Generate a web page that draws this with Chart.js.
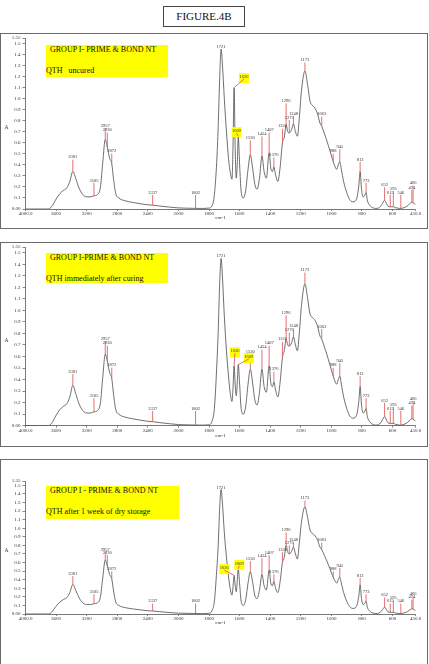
<!DOCTYPE html>
<html>
<head>
<meta charset="utf-8">
<title>FIGURE.4B</title>
<script src="https://cdn.jsdelivr.net/npm/chart.js@4.4.1/dist/chart.umd.min.js"></script>
<style>
  body { margin:0; width:429px; height:664px; position:relative; overflow:hidden; background:#fff;
         font-family:"Liberation Serif","Times New Roman",serif; }
  .figtitle { position:absolute; left:163px; top:6px; width:82px; height:21px; box-sizing:border-box;
              border:1px solid #444; font-size:11px; line-height:19px; text-align:center; color:#111; }
  .frame { position:absolute; left:0; width:428px; box-sizing:border-box; border:1.5px solid #6a6a6a; }
  canvas { position:absolute; left:0; }
  .note { position:absolute; left:46px; background:#ffff00; color:#111; font-size:8px; line-height:8px; white-space:pre; }
  .note span { position:absolute; }
</style>
</head>
<body>
<div class="figtitle">FIGURE.4B</div>

<div class="frame" style="top:32.5px;height:196px"></div>
<canvas id="uncured" width="429" height="195" style="top:33px"></canvas>
<div class="note" style="top:45px;width:122px;height:32px"><span style="left:4px;top:1px">GROUP I- PRIME &amp; BOND NT</span><span style="left:0;top:22px">QTH   uncured</span></div>

<div class="frame" style="top:241.5px;height:205.5px"></div>
<canvas id="cured" width="429" height="204" style="top:242px"></canvas>
<div class="note" style="top:253px;width:122px;height:30px"><span style="left:4px;top:1.3px">GROUP I-PRIME &amp; BOND NT</span><span style="left:0;top:22.3px">QTH immediately after curing</span></div>

<div class="frame" style="top:458.5px;height:230px"></div>
<canvas id="stored" width="429" height="181" style="top:459px"></canvas>
<div class="note" style="top:486px;width:133px;height:33px"><span style="left:4px;top:1.3px">GROUP I - PRIME &amp; BOND NT</span><span style="left:0;top:22px">QTH after 1 week of dry storage</span></div>

<script>
// wavenumbers (cm-1) where the spectra were read
const wavenumbers = [
  4000, 3800, 3700, 3660, 3600, 3550, 3500, 3460, 3420, 3381,
  3340, 3300, 3250, 3200, 3150, 3105, 3060, 3020, 2990, 2957,
  2930, 2900, 2872, 2850, 2820, 2780, 2700, 2600, 2500, 2400,
  2337, 2250, 2100, 2000, 1900, 1850, 1802, 1780, 1765, 1750,
  1740, 1730, 1721, 1712, 1700, 1686, 1672, 1660, 1650, 1643,
  1636, 1629, 1622, 1615, 1609, 1600, 1590, 1575, 1560, 1545,
  1530, 1515, 1500, 1486, 1470, 1454, 1440, 1425, 1407, 1395,
  1385, 1376, 1365, 1350, 1335, 1320, 1308, 1296, 1285, 1275,
  1260, 1248, 1235, 1222, 1210, 1195, 1173, 1155, 1140, 1125,
  1110, 1090, 1075, 1063, 1045, 1030, 1010, 995, 988, 975,
  965, 955, 945, 935, 920, 900, 880, 860, 845, 830,
  820, 812, 803, 793, 783, 773, 765, 750, 730, 710,
  690, 670, 652, 640, 630, 615, 605, 595, 580, 560,
  546, 520, 500, 482, 470, 460, 450
];

// absorbance, QTH uncured
const absUncured = [
  0, 0, 0, 0.02, 0.09, 0.14, 0.17, 0.19, 0.25, 0.34,
  0.27, 0.19, 0.13, 0.11, 0.11, 0.12, 0.13, 0.20, 0.42, 0.63,
  0.56, 0.46, 0.41, 0.28, 0.14, 0.10, 0.075, 0.06, 0.048, 0.038,
  0.035, 0.027, 0.016, 0.01, 0.006, 0.005, 0.008, 0.03, 0.13, 0.42,
  0.75, 1.20, 1.45, 1.30, 1.00, 0.70, 0.45, 0.32, 0.27, 0.58,
  1.10, 0.55, 0.28, 0.42, 0.66, 0.40, 0.16, 0.10, 0.17, 0.36,
  0.49, 0.37, 0.22, 0.18, 0.28, 0.48, 0.34, 0.28, 0.51, 0.36,
  0.34, 0.38, 0.31, 0.25, 0.38, 0.60, 0.65, 0.76, 0.70, 0.69,
  0.72, 0.77, 0.70, 0.66, 0.82, 1.08, 1.25, 1.12, 0.98, 0.94,
  0.92, 0.86, 0.78, 0.75, 0.68, 0.62, 0.53, 0.46, 0.43, 0.38,
  0.36, 0.40, 0.43, 0.36, 0.25, 0.15, 0.085, 0.065, 0.07, 0.12,
  0.22, 0.34, 0.18, 0.11, 0.12, 0.15, 0.08, 0.035, 0.012, 0.005,
  0.01, 0.04, 0.08, 0.05, 0.025, 0.02, 0.02, 0.02, 0.012, 0.006,
  0.005, 0.015, 0.03, 0.055, 0.06, 0.05, 0.04
];

// absorbance, QTH immediately after curing
const absCured = [
  0, 0, 0, 0.02, 0.09, 0.14, 0.17, 0.19, 0.25, 0.35,
  0.27, 0.19, 0.13, 0.11, 0.11, 0.12, 0.13, 0.20, 0.42, 0.62,
  0.56, 0.46, 0.41, 0.28, 0.14, 0.10, 0.075, 0.06, 0.048, 0.038,
  0.035, 0.027, 0.016, 0.01, 0.006, 0.005, 0.008, 0.04, 0.15, 0.50,
  0.82, 1.25, 1.45, 1.28, 0.95, 0.65, 0.42, 0.27, 0.21, 0.33,
  0.52, 0.36, 0.26, 0.38, 0.53, 0.36, 0.15, 0.10, 0.17, 0.36,
  0.49, 0.37, 0.22, 0.18, 0.29, 0.49, 0.34, 0.29, 0.52, 0.36,
  0.34, 0.38, 0.31, 0.25, 0.38, 0.59, 0.65, 0.75, 0.70, 0.69,
  0.72, 0.77, 0.70, 0.65, 0.80, 1.05, 1.23, 1.10, 0.97, 0.94,
  0.92, 0.86, 0.78, 0.75, 0.68, 0.62, 0.53, 0.46, 0.43, 0.38,
  0.36, 0.40, 0.43, 0.36, 0.25, 0.15, 0.085, 0.065, 0.07, 0.12,
  0.22, 0.34, 0.18, 0.11, 0.12, 0.15, 0.08, 0.035, 0.012, 0.005,
  0.01, 0.04, 0.08, 0.05, 0.025, 0.02, 0.02, 0.02, 0.012, 0.006,
  0.005, 0.015, 0.03, 0.055, 0.06, 0.05, 0.04
];

// absorbance, QTH after 1 week of dry storage
const absStored = [
  0, 0, 0, 0.02, 0.09, 0.14, 0.17, 0.19, 0.25, 0.345,
  0.27, 0.19, 0.13, 0.11, 0.11, 0.12, 0.13, 0.20, 0.42, 0.63,
  0.56, 0.46, 0.41, 0.28, 0.14, 0.10, 0.075, 0.06, 0.048, 0.038,
  0.035, 0.027, 0.016, 0.01, 0.006, 0.005, 0.008, 0.04, 0.15, 0.50,
  0.80, 1.25, 1.45, 1.28, 0.95, 0.66, 0.43, 0.28, 0.22, 0.32,
  0.45, 0.33, 0.26, 0.40, 0.53, 0.35, 0.15, 0.10, 0.17, 0.36,
  0.49, 0.37, 0.21, 0.18, 0.28, 0.46, 0.33, 0.28, 0.51, 0.35,
  0.33, 0.38, 0.30, 0.25, 0.38, 0.60, 0.66, 0.80, 0.72, 0.70,
  0.73, 0.78, 0.70, 0.64, 0.82, 1.08, 1.25, 1.12, 0.98, 0.94,
  0.92, 0.86, 0.78, 0.75, 0.68, 0.62, 0.53, 0.46, 0.43, 0.38,
  0.36, 0.40, 0.43, 0.36, 0.25, 0.15, 0.085, 0.065, 0.07, 0.12,
  0.22, 0.34, 0.18, 0.11, 0.12, 0.15, 0.08, 0.035, 0.012, 0.005,
  0.01, 0.04, 0.08, 0.05, 0.025, 0.02, 0.02, 0.02, 0.012, 0.006,
  0.005, 0.015, 0.03, 0.055, 0.06, 0.05, 0.04
];

// peak markers (red lines), where they sit and what they say
const peakPositions = [3381, 3105, 2957, 2930, 2872, 2337, 1888, 1721, 1530, 1454, 1407, 1376, 1320, 1296, 1275, 1248, 1173, 1063, 988, 945, 812, 773, 652, 615, 595, 546, 474, 466];
const peakTexts     = ["3381", "3105", "2957", "2930", "2872", "2337", "1802", "1721", "1530", "1454", "1407", "1376", "1320", "1296", "1275", "1248", "1173", "1063", "988", "945", "812", "773", "652", "615", "595", "546", "474", "466"];
const peakLabelAbs  = [0.47, 0.26, 0.75, 0.715, 0.525, 0.15, 0.15, 1.47, 0.645, 0.68, 0.715, 0.49, 0.75, 0.98, 0.83, 0.865, 1.35, 0.86, 0.525, 0.565, 0.45, 0.26, 0.22, 0.15, 0.185, 0.15, 0.195, 0.235];

// highlighted peaks: [label wavenumber, label absorbance] per panel
const highlightPeaks = [1636, 1609];
const highlightUncured = [[1572, 1.20], [1620, 0.71]];
const highlightCured   = [[1631, 0.65], [1540, 0.60]];
const highlightStored  = [[1700, 0.54], [1602, 0.59]];

const xTickValues = [4000, 3600, 3200, 2800, 2400, 2000, 1800, 1600, 1400, 1200, 1000, 800, 600, 450];
const xTickLabels = ["4000.0", "3600", "3200", "2800", "2400", "2000", "1800", "1600", "1400", "1200", "1000", "800", "600", "450.0"];
const yTickValues = [0, 0.1, 0.2, 0.3, 0.4, 0.5, 0.6, 0.7, 0.8, 0.9, 1.0, 1.1, 1.2, 1.3, 1.4, 1.5, 1.55];
const yTickLabels = ["0.00", "0.1", "0.2", "0.3", "0.4", "0.5", "0.6", "0.7", "0.8", "0.9", "1.0", "1.1", "1.2", "1.3", "1.4", "1.5", "1.55"];

const SERIF = '"Liberation Serif", "Times New Roman", serif';

// instrument scale: region above 2000 cm-1 is compressed 2x
function toAxis(w) {
  return w > 2000 ? 2000 + (w - 2000) / 2 : w;
}

function absAt(series, w) {
  for (let i = 0; i < wavenumbers.length - 1; i++) {
    const a = wavenumbers[i], b = wavenumbers[i + 1];
    if (w <= a && w >= b) {
      const t = (a - w) / (a - b);
      return series[i] + t * (series[i + 1] - series[i]);
    }
  }
  return 0;
}

const peakMarks = {
  id: 'peakMarks',
  afterDatasetsDraw(chart, args, opts) {
    const { ctx, chartArea, scales: { x, y } } = chart;
    const series = opts.series;
    ctx.save();
    ctx.font = '4.5px ' + SERIF;
    ctx.textAlign = 'center';
    ctx.textBaseline = 'middle';
    ctx.lineWidth = 0.9;

    function mark(w, text, lw, la, yellow) {
      const px = x.getPixelForValue(toAxis(w));
      const py = y.getPixelForValue(absAt(series, w));
      const lx = x.getPixelForValue(toAxis(lw));
      const ly = y.getPixelForValue(la);
      if (yellow) {
        ctx.fillStyle = '#ffff00';
        ctx.fillRect(lx - 5, ly - 3.5, 10, 10);
      }
      ctx.strokeStyle = '#e2605e';
      ctx.beginPath();
      ctx.moveTo(px, py);
      ctx.lineTo(lx, ly + 2.5);
      ctx.stroke();
      ctx.fillStyle = '#333';
      ctx.fillText(text, lx, ly);
    }

    peakPositions.forEach((w, i) => mark(w, peakTexts[i], w, peakLabelAbs[i], false));
    highlightPeaks.forEach((w, i) => mark(w, String(w), opts.highlight[i][0], opts.highlight[i][1], true));

    // y axis letter
    ctx.font = '5.5px ' + SERIF;
    ctx.fillStyle = '#333';
    ctx.fillText('A', chartArea.left - 19, y.getPixelForValue(0.74));
    ctx.restore();
  }
};

function makePanel(id, series, highlight, geo) {
  const points = wavenumbers.map((w, i) => ({ x: toAxis(w), y: series[i] }));
  const tickFont = { family: SERIF, size: 5 };
  return new Chart(document.getElementById(id), {
    type: 'line',
    data: {
      datasets: [{
        data: points,
        borderColor: '#4a4a4a',
        borderWidth: 0.8,
        pointRadius: 0,
        cubicInterpolationMode: 'monotone',
        fill: false
      }]
    },
    options: {
      responsive: false,
      animation: false,
      events: [],
      layout: { padding: { left: 0, right: 13.5, top: geo.top, bottom: geo.bottom } },
      plugins: {
        legend: { display: false },
        tooltip: { enabled: false },
        peakMarks: { series: series, highlight: highlight }
      },
      scales: {
        x: {
          type: 'linear',
          reverse: true,
          min: 450,
          max: 3000,
          afterBuildTicks: function (scale) {
            scale.ticks = xTickValues.map(w => ({ value: toAxis(w) }));
          },
          afterFit: function (scale) { scale.height = geo.axisH; },
          ticks: {
            autoSkip: false,
            maxRotation: 0,
            padding: 0,
            color: '#333',
            font: tickFont,
            callback: (v, i) => xTickLabels[i]
          },
          grid: { drawOnChartArea: false, drawTicks: true, tickLength: 2, color: '#555', lineWidth: 0.7 },
          border: { display: true, color: '#555', width: 0.8 },
          title: { display: true, text: 'cm-1', color: '#333', font: tickFont, padding: 0 }
        },
        y: {
          min: 0,
          max: 1.55,
          afterBuildTicks: function (scale) {
            scale.ticks = yTickValues.map(v => ({ value: v }));
          },
          afterFit: function (scale) { scale.width = 25.5; },
          ticks: {
            autoSkip: false,
            padding: 2,
            color: '#333',
            font: tickFont,
            callback: (v, i) => yTickLabels[i]
          },
          grid: { drawOnChartArea: false, drawTicks: true, tickLength: 3, color: '#555', lineWidth: 0.7 },
          border: { display: true, color: '#555', width: 0.8 }
        }
      }
    },
    plugins: [peakMarks]
  });
}

makePanel('uncured', absUncured, highlightUncured, { top: 3.7, bottom: 7.5, axisH: 11.5 });
makePanel('cured', absCured, highlightCured, { top: 3, bottom: 7, axisH: 13.3 });
makePanel('stored', absStored, highlightStored, { top: 22, bottom: 14.7, axisH: 11.3 });
</script>
</body>
</html>
